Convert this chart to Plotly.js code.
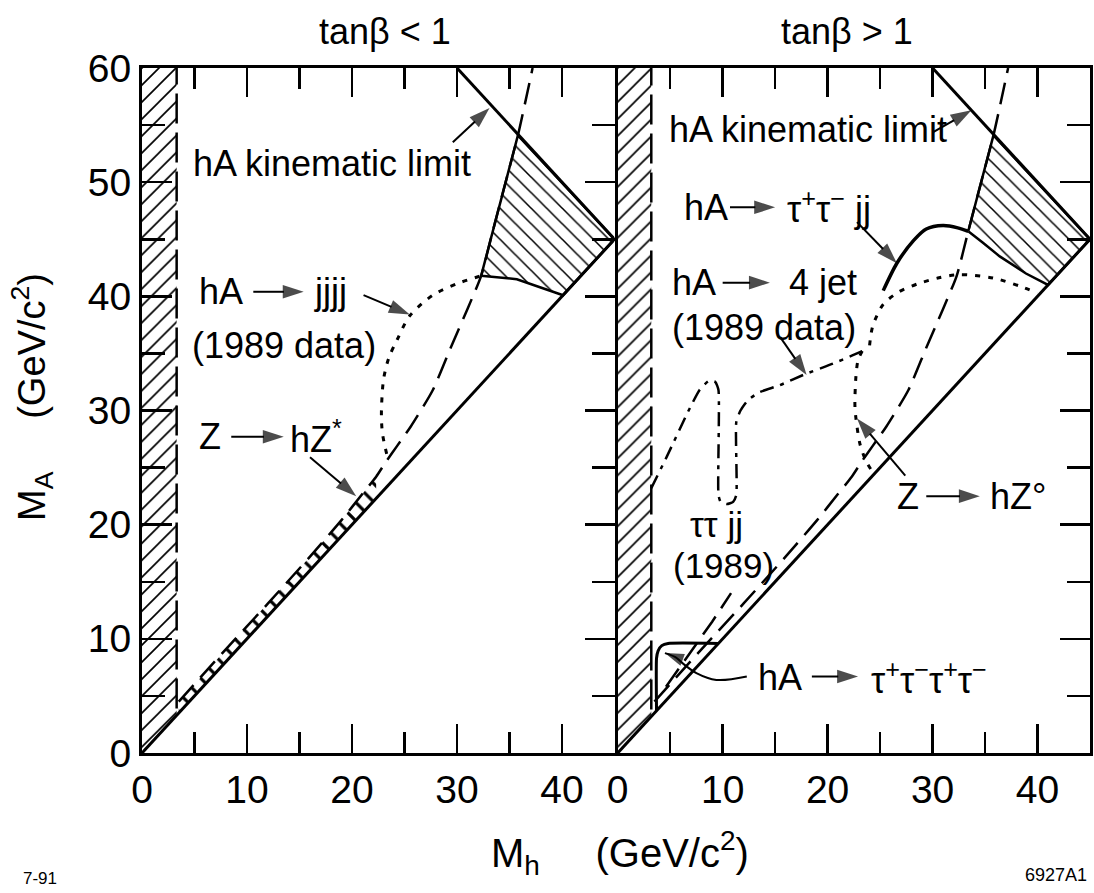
<!DOCTYPE html>
<html>
<head>
<meta charset="utf-8">
<script src="https://cdn.plot.ly/plotly-3.0.1.min.js"></script>
<style>
  html, body { margin: 0; padding: 0; background: #fff; }
  #chart { width: 1094px; height: 893px; }
</style>
</head>
<body>
<div id="chart"></div>
<script>
// ---- axis extents and ticks (GeV/c^2) ----
const xRange = [0, 45];
const yRange = [0, 60];
const xTicks = [0, 10, 20, 30, 40];
const yTicks = [0, 10, 20, 30, 40, 50, 60];

// ---- lines common to both panels ----
const diagMh = [0, 45];
const diagMa = [0, 45];
const kinMh = [30, 45];          // hA kinematic limit, M_h + M_A = 90
const kinMa = [60, 45];

// Z -> hZ boundary (long dashes)
const dashMh = [3.5, 8, 12, 16, 19, 21, 22.3, 23.3, 24.3, 25.6, 27.7, 29.4, 31, 32.3, 33.4, 34.6, 35.8, 37.2];
const dashMa = [4.5, 9.1, 13.1, 17.2, 20.4, 22.7, 24.2, 25.6, 26.9, 28.6, 31.8, 35.5, 38.9, 41.8, 45.7, 49.9, 54.1, 60];

// low-mass excluded band (hatched strip along the M_A axis)
const bandEdgeLeft = 3.3;
const bandEdgeRight = 3.2;

// ---- tan(beta) < 1 panel ----
// Z -> hZ* sliver between the dashed boundary and the diagonal
const zstarMh = [3.5, 8, 12, 16, 19, 21, 22.3, 22.3, 3.5];
const zstarMa = [4.5, 9.1, 13.1, 17.2, 20.4, 22.7, 24.2, 22.3, 3.5];
// hA -> jjjj (1989 data), dotted
const jjjjMh = [23.3, 22.9, 22.8, 23.0, 23.5, 24.3, 25.5, 27.7, 30.0, 32.3];
const jjjjMa = [26.2, 28.0, 29.7, 32.7, 34.6, 36.2, 38.3, 40.1, 41.1, 41.8];
// excluded region (hatched)
const exclLMh = [32.3, 33.4, 34.6, 35.8, 45, 40.1, 37.9, 35.7, 32.3];
const exclLMa = [41.8, 45.7, 49.9, 54.1, 45, 40.1, 40.8, 41.5, 41.8];

// ---- tan(beta) > 1 panel ----
// hA -> tau+ tau- jj, solid
const taujjMh = [25.3, 26.6, 28.2, 29.4, 31.0, 32.4, 33.4];
const taujjMa = [40.5, 42.9, 44.9, 45.9, 46.2, 46.0, 45.7];
// excluded region (hatched)
const exclRMh = [33.4, 34.6, 35.8, 45, 41.0, 38.9, 36.4, 34.8, 33.4];
const exclRMa = [45.7, 49.9, 54.1, 45, 41.0, 42.0, 43.5, 44.7, 45.7];
// hA -> 4 jet (1989 data), dotted
const jet4Mh = [24.0, 24.3, 25.3, 26.8, 28.6, 30.5, 32.6, 35.8, 38.3, 40.0];
const jet4Ma = [35.7, 37.4, 39.3, 40.4, 41.1, 41.6, 41.9, 41.6, 40.9, 40.3];
const jet4LowMh = [23.3, 22.9, 22.7, 22.6, 22.7, 23.1, 23.7, 24.3];
const jet4LowMa = [35.2, 34.4, 33.0, 30.5, 29.3, 27.0, 25.5, 24.6];
// tau tau jj (1989), dash-dot
const ttjjMh = [3.2, 4.7, 6.6, 7.8, 8.7, 9.3, 9.6, 9.6, 9.8, 10.4, 11.0, 11.3, 11.3, 11.7, 12.4, 13.5, 15.4, 17.9, 20.5, 22.3, 23.3];
const ttjjMa = [23.2, 26.0, 29.7, 31.8, 32.6, 32.5, 31.8, 22.6, 22.0, 21.8, 22.0, 22.6, 29.0, 30.0, 30.9, 31.6, 32.2, 33.2, 34.1, 34.8, 35.2];
// short dashed branch at low mass
const branchMh = [4.6, 7.0, 9.0, 10.8];
const branchMa = [5.8, 8.9, 11.5, 14.0];
// hA -> tau+ tau- tau+ tau-, solid outline
const t4Mh = [3.7, 3.7, 3.85, 4.2, 4.8, 9.6];
const t4Ma = [3.7, 8.3, 8.95, 9.4, 9.6, 9.6];
// leader curve from the tau tau tau tau label
const leaderMh = [12.3, 9.4, 7.5, 6.2, 5.5, 4.5];
const leaderMa = [6.7, 6.4, 7.0, 7.85, 8.4, 8.75];

const FONT = 'Liberation Sans, Arial, Helvetica, sans-serif';
const traces = [];

function axesOf(p) { return p === 1 ? { xaxis: 'x', yaxis: 'y' } : { xaxis: 'x2', yaxis: 'y2' }; }

function addLine(p, mh, ma, line, extra) {
  traces.push(Object.assign({
    type: 'scatter', mode: 'lines', x: mh, y: ma,
    line: Object.assign({ color: 'black', width: 3 }, line),
    hoverinfo: 'skip', showlegend: false
  }, axesOf(p), extra || {}));
}

function addHatch(p, mh, ma, shape, size, outline, solidity) {
  traces.push(Object.assign({
    type: 'scatter', mode: 'lines', x: mh, y: ma, fill: 'toself',
    fillcolor: 'white',
    fillpattern: { shape: shape, size: size, solidity: solidity || 0.14, fgcolor: 'black', bgcolor: 'white' },
    line: outline ? { color: 'black', width: outline } : { width: 0, color: 'rgba(0,0,0,0)' },
    hoverinfo: 'skip', showlegend: false
  }, axesOf(p)));
}

// straight arrow: shaft plus a head marker turned along the shaft
function addArrow(p, tailX, tailY, tipX, tipY, head) {
  traces.push(Object.assign({
    type: 'scatter', mode: 'lines+markers', x: [tailX, tipX], y: [tailY, tipY],
    line: { color: 'black', width: 2 },
    marker: { symbol: 'arrow', size: [0, head || 22], angleref: 'previous', color: 'black', line: { width: 0 } },
    hoverinfo: 'skip', showlegend: false
  }, axesOf(p)));
}

// hatched low-mass bands
[[1, bandEdgeLeft], [2, bandEdgeRight]].forEach(([p, e]) => {
  addHatch(p, [0, e, e, 0, 0], [0, e, yRange[1], yRange[1], 0], '/', 12, 0);
  addLine(p, [e, e], [e + 0.6, yRange[1]], { width: 2.5, dash: '30px,9px' });
});

// Z -> hZ* sliver
addHatch(1, zstarMh, zstarMa, '\\', 13, 0, 0.25);

// excluded regions
addHatch(1, exclLMh, exclLMa, '\\', 11, 2.5);
addHatch(2, exclRMh, exclRMa, '\\', 11, 2.5);

// common lines
[1, 2].forEach(p => {
  addLine(p, diagMh, diagMa, { width: 3 });
  addLine(p, kinMh, kinMa, { width: 3 });
  addLine(p, dashMh, dashMa, { width: 2.5, dash: '22px,10px', shape: 'spline', smoothing: 0.6 });
});

// left panel
addLine(1, jjjjMh, jjjjMa, { width: 3, dash: '5px,8px', shape: 'spline', smoothing: 0.8 });

// right panel
addLine(2, taujjMh, taujjMa, { width: 3.5, shape: 'spline', smoothing: 0.8 });
addLine(2, jet4Mh, jet4Ma, { width: 3, dash: '5px,8px', shape: 'spline', smoothing: 0.8 });
addLine(2, jet4LowMh, jet4LowMa, { width: 3, dash: '5px,8px', shape: 'spline', smoothing: 0.8 });
addLine(2, ttjjMh, ttjjMa, { width: 2.5, dash: '14px,7px,4px,7px', shape: 'spline', smoothing: 0.5 });
addLine(2, branchMh, branchMa, { width: 2.5, dash: '22px,10px' });
addLine(2, t4Mh, t4Ma, { width: 3, shape: 'spline', smoothing: 0.5 });
traces.push(Object.assign({
  type: 'scatter', mode: 'lines+markers', x: leaderMh, y: leaderMa,
  line: { color: 'black', width: 2, shape: 'spline', smoothing: 1 },
  marker: { symbol: 'arrow', size: leaderMh.map((_, i) => i === leaderMh.length - 1 ? 20 : 0), angleref: 'previous', color: 'black', line: { width: 0 } },
  hoverinfo: 'skip', showlegend: false
}, axesOf(2)));

// arrows, left panel
addArrow(1, 29.6, 53.5, 33.1, 56.5);
addArrow(1, 10.6, 40.4, 15.4, 40.4);
addArrow(1, 21.1, 40.1, 25.5, 38.4);
addArrow(1, 8.5, 27.7, 13.5, 27.7);
addArrow(1, 16.0, 25.9, 20.4, 22.5);
// arrows, right panel
addArrow(2, 30.1, 54.4, 33.7, 56.3);
addArrow(2, 10.7, 47.8, 15.0, 47.8);
addArrow(2, 22.8, 46.5, 26.6, 42.9);
addArrow(2, 10.0, 41.2, 14.5, 41.2);
addArrow(2, 15.5, 36.4, 18.0, 33.1);
addArrow(2, 29.4, 22.5, 34.5, 22.5);
addArrow(2, 27.4, 24.3, 22.8, 29.3);
addArrow(2, 18.5, 6.7, 22.9, 6.7);

// ---- text ----
const TXT = 36;
function label(p, x, y, text, size, extra) {
  const a = axesOf(p);
  return Object.assign({
    xref: a.xaxis, yref: a.yaxis, x: x, y: y, text: text, showarrow: false,
    xanchor: 'left', yanchor: 'middle',
    font: { family: FONT, size: size || TXT, color: 'black' }
  }, extra || {});
}
function paperText(px, py, text, size, extra) {
  return Object.assign({
    xref: 'paper', yref: 'paper', x: px / 1094, y: 1 - py / 893, text: text,
    showarrow: false, xanchor: 'center', yanchor: 'middle',
    font: { family: FONT, size: size, color: 'black' }
  }, extra || {});
}

const annotations = [
  // left panel
  label(1, 4.7, 51.6, 'hA kinematic limit'),
  label(1, 5.2, 40.4, 'hA'),
  label(1, 16.2, 40.4, 'jjjj'),
  label(1, 4.6, 35.7, '(1989 data)'),
  label(1, 5.2, 27.7, 'Z'),
  label(1, 13.9, 27.7, 'hZ<sup>*</sup>'),

  // right panel
  label(2, 4.67, 54.6, 'hA kinematic limit'),
  label(2, 6.1, 47.8, 'hA'),
  label(2, 15.9, 47.8, 'τ<sup>+</sup>τ<sup>−</sup> jj'),
  label(2, 5.0, 41.2, 'hA'),
  label(2, 16.1, 41.2, '4 jet'),
  label(2, 5.0, 37.3, '(1989 data)'),
  label(2, 6.7, 20.0, 'ττ jj', 35),
  label(2, 5.1, 16.4, '(1989)', 35),
  label(2, 26.4, 22.5, 'Z'),
  label(2, 35.3, 22.5, 'hZ°'),
  label(2, 13.2, 6.6, 'hA'),
  label(2, 23.9, 6.6, 'τ<sup>+</sup>τ<sup>−</sup>τ<sup>+</sup>τ<sup>−</sup>'),

  // panel headings, axis titles, plate ids
  paperText(385, 31, 'tanβ < 1', 36),
  paperText(847, 31, 'tanβ > 1', 36),
  paperText(620, 853, 'M<sub>h</sub>     (GeV/c<sup>2</sup>)', 40),
  paperText(32, 397, 'M<sub>A</sub>     (GeV/c<sup>2</sup>)', 38, { textangle: -90 }),
  paperText(40, 878, '7-91', 17),
  paperText(1056, 875, '6927A1', 18)
];

// ---- axes ----
const yDomain = [1 - 753 / 893, 1 - 68 / 893];
function xAxis(domain, anchor) {
  return {
    domain: domain, anchor: anchor, range: xRange, layer: 'above traces',
    tickmode: 'array', tickvals: xTicks, ticktext: xTicks.map(String),
    ticks: 'inside', ticklen: 29, tickwidth: 2.5, tickcolor: 'black',
    minor: { tickmode: 'array', tickvals: [5, 15, 25, 35, 45], ticks: 'inside', ticklen: 21, tickwidth: 2.5, tickcolor: 'black' },
    mirror: 'allticks', showline: true, linewidth: 3, linecolor: 'black',
    showgrid: false, zeroline: false, fixedrange: true,
    tickfont: { family: FONT, size: 39, color: 'black' }
  };
}
function yAxis(anchor, side, labels, mirror) {
  return {
    domain: yDomain, anchor: anchor, range: yRange, side: side, layer: 'above traces',
    tickmode: 'array', tickvals: yTicks, ticktext: yTicks.map(String),
    ticks: 'inside', ticklen: 30, tickwidth: 2.5, tickcolor: 'black',
    minor: { tickmode: 'array', tickvals: [5, 15, 25, 35, 45, 55], ticks: 'inside', ticklen: 23, tickwidth: 2.5, tickcolor: 'black' },
    mirror: mirror, showline: true, linewidth: 3, linecolor: 'black',
    showticklabels: labels, showgrid: false, zeroline: false, fixedrange: true,
    tickfont: { family: FONT, size: 39, color: 'black' }
  };
}

const layout = {
  width: 1094, height: 893,
  margin: { l: 0, r: 0, t: 0, b: 0 },
  paper_bgcolor: 'white', plot_bgcolor: 'white',
  showlegend: false, hovermode: false,
  xaxis: xAxis([142 / 1094, 614.5 / 1094], 'y'),
  yaxis: yAxis('x', 'left', true, 'allticks'),
  xaxis2: xAxis([617.7 / 1094, 1090 / 1094], 'y2'),
  yaxis2: yAxis('x2', 'right', false, true),
  annotations: annotations
};

Plotly.newPlot('chart', traces, layout, { staticPlot: true, displayModeBar: false });
</script>
</body>
</html>
